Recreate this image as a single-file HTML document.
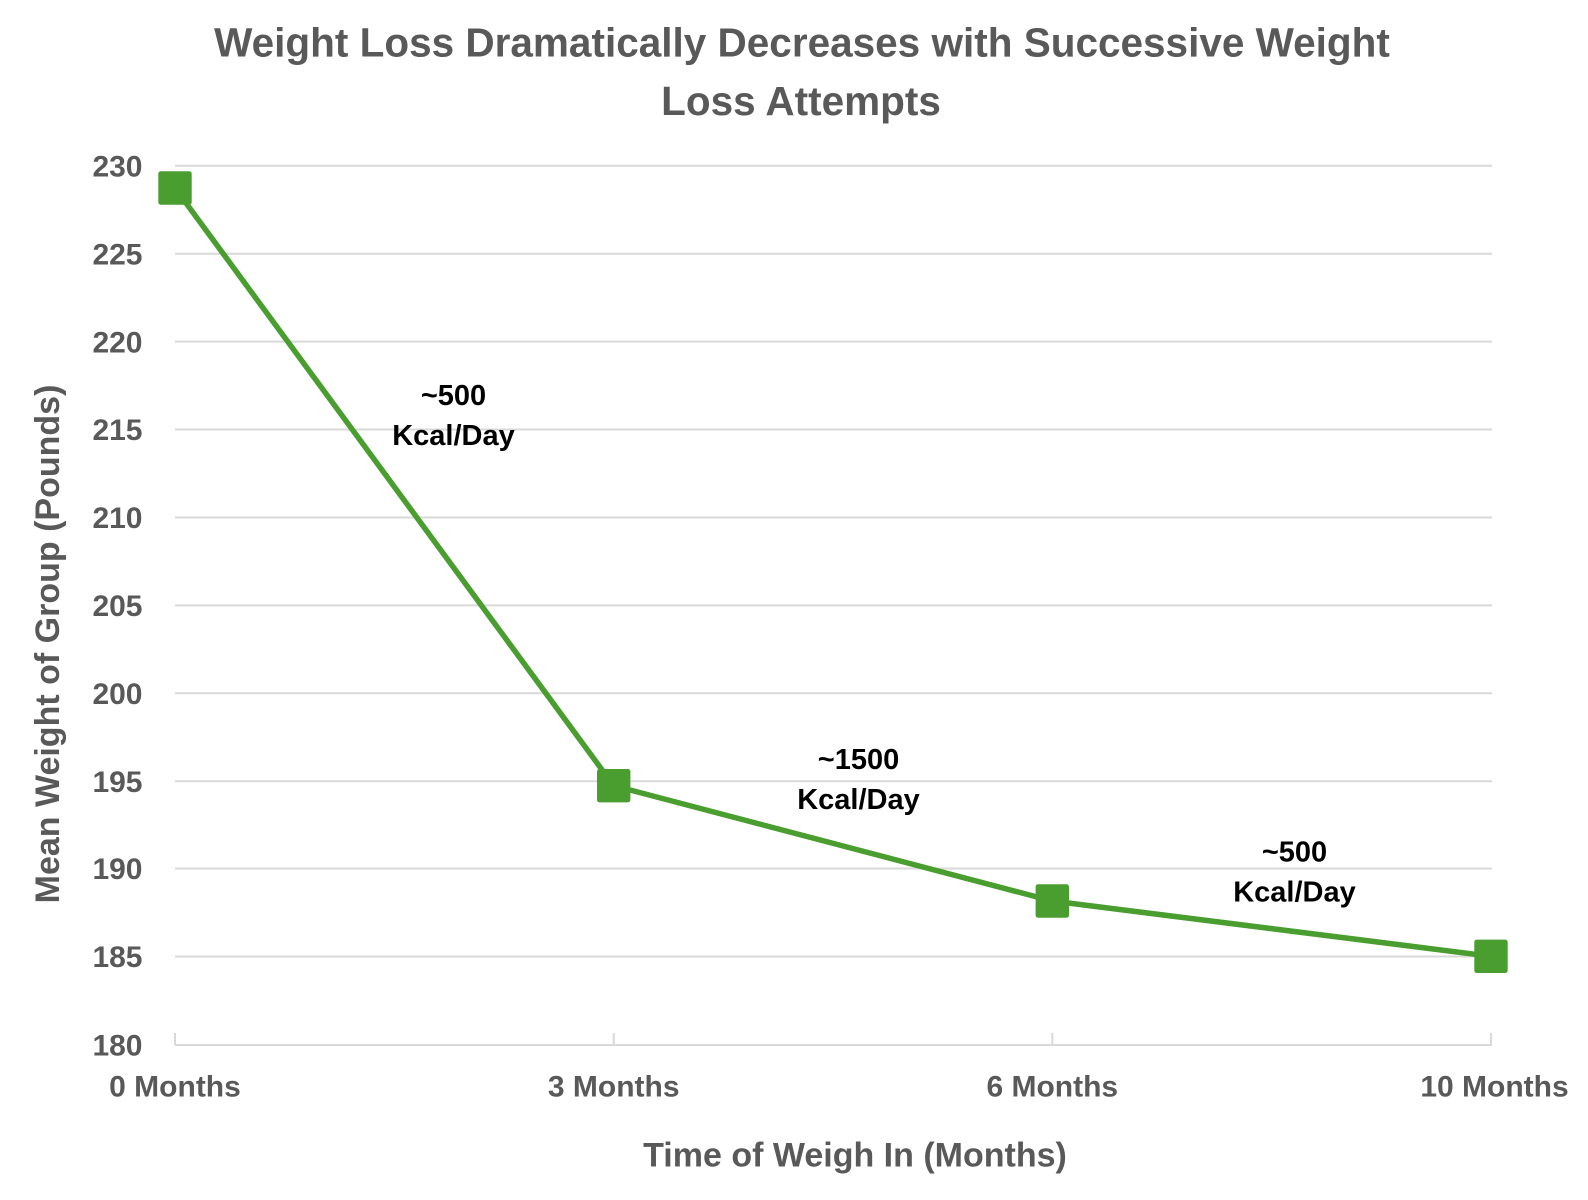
<!DOCTYPE html>
<html>
<head>
<meta charset="utf-8">
<style>
  html, body { margin: 0; padding: 0; background: #ffffff; }
  svg { display: block; }
  text { font-family: "Liberation Sans", Arial, sans-serif; font-weight: bold; }
</style>
</head>
<body>
<svg width="1588" height="1200" viewBox="0 0 1588 1200" xmlns="http://www.w3.org/2000/svg">
  <rect x="0" y="0" width="1588" height="1200" fill="#ffffff"/>

  <!-- Title -->
  <text x="802" y="56.7" font-size="40.5" fill="#595959" text-anchor="middle">Weight Loss Dramatically Decreases with Successive Weight</text>
  <text x="801" y="115" font-size="40.5" fill="#595959" text-anchor="middle">Loss Attempts</text>

  <!-- Gridlines -->
  <g stroke="#d9d9d9" stroke-width="2">
    <line x1="175" y1="165.75" x2="1492" y2="165.75"/>
    <line x1="175" y1="253.7" x2="1492" y2="253.7"/>
    <line x1="175" y1="341.6" x2="1492" y2="341.6"/>
    <line x1="175" y1="429.5" x2="1492" y2="429.5"/>
    <line x1="175" y1="517.5" x2="1492" y2="517.5"/>
    <line x1="175" y1="605.4" x2="1492" y2="605.4"/>
    <line x1="175" y1="693.3" x2="1492" y2="693.3"/>
    <line x1="175" y1="781.2" x2="1492" y2="781.2"/>
    <line x1="175" y1="868.5" x2="1492" y2="868.5"/>
    <line x1="175" y1="956.5" x2="1492" y2="956.5"/>
    <!-- axis -->
    <line x1="175" y1="1045" x2="1492" y2="1045"/>
    <!-- ticks -->
    <line x1="175" y1="1033" x2="175" y2="1045"/>
    <line x1="613.7" y1="1033" x2="613.7" y2="1045"/>
    <line x1="1052.3" y1="1033" x2="1052.3" y2="1045"/>
    <line x1="1491" y1="1033" x2="1491" y2="1045"/>
  </g>

  <!-- Y tick labels -->
  <g font-size="30" fill="#595959" text-anchor="end">
    <text x="142.5" y="176.4">230</text>
    <text x="142.5" y="264.4">225</text>
    <text x="142.5" y="352.3">220</text>
    <text x="142.5" y="440.2">215</text>
    <text x="142.5" y="528.2">210</text>
    <text x="142.5" y="616.1">205</text>
    <text x="142.5" y="704">200</text>
    <text x="142.5" y="791.9">195</text>
    <text x="142.5" y="879.2">190</text>
    <text x="142.5" y="967.2">185</text>
    <text x="142.5" y="1055.7">180</text>
  </g>

  <!-- X tick labels -->
  <g font-size="30" fill="#595959" text-anchor="middle">
    <text x="175" y="1096.7">0 Months</text>
    <text x="613.7" y="1096.7">3 Months</text>
    <text x="1052.3" y="1096.7">6 Months</text>
    <text x="1494.5" y="1096.7">10 Months</text>
  </g>

  <!-- Axis titles -->
  <text x="855" y="1166.7" font-size="34" fill="#595959" text-anchor="middle">Time of Weigh In (Months)</text>
  <text x="0" y="0" font-size="34" fill="#595959" text-anchor="middle" transform="translate(59,644) rotate(-90)">Mean Weight of Group (Pounds)</text>

  <!-- Series line -->
  <polyline points="175,188 613.7,785.7 1052.3,901 1491,956.3" fill="none" stroke="#4a9e2f" stroke-width="5.5" stroke-linejoin="round"/>

  <!-- Markers -->
  <g fill="#4a9e2f">
    <rect x="158.3" y="171.3" width="33.4" height="33.4" rx="2.5"/>
    <rect x="597" y="769" width="33.4" height="33.4" rx="2.5"/>
    <rect x="1035.6" y="884.3" width="33.4" height="33.4" rx="2.5"/>
    <rect x="1474.3" y="939.6" width="33.4" height="33.4" rx="2.5"/>
  </g>

  <!-- Annotations -->
  <g font-size="29" fill="#000000" text-anchor="middle">
    <text x="453.5" y="405">~500</text>
    <text x="453.5" y="445">Kcal/Day</text>
    <text x="858.5" y="769">~1500</text>
    <text x="858.5" y="809">Kcal/Day</text>
    <text x="1294.5" y="861.7">~500</text>
    <text x="1294.5" y="901.7">Kcal/Day</text>
  </g>
</svg>
</body>
</html>
